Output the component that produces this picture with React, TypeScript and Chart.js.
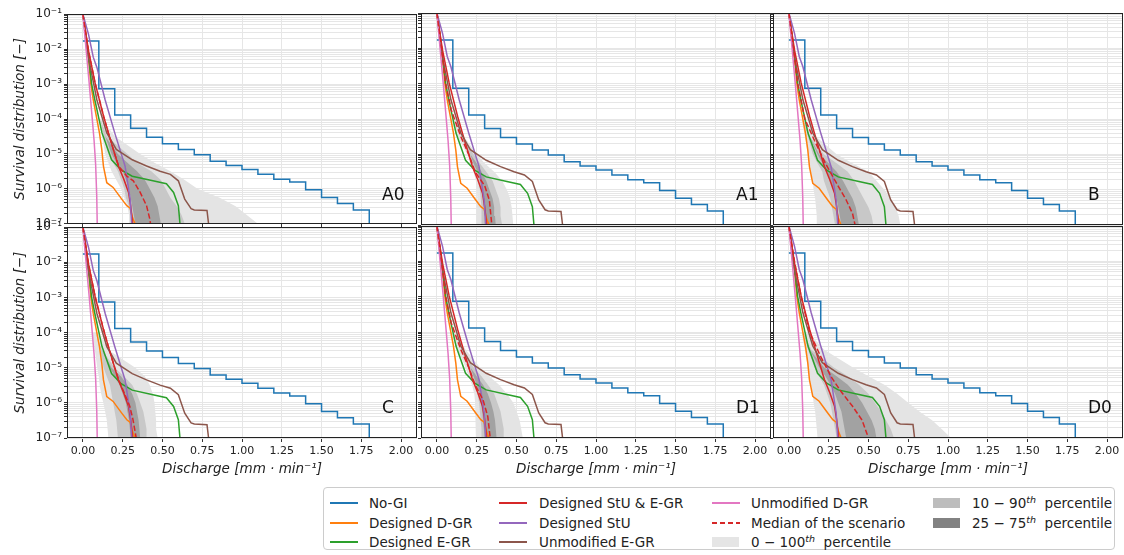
import React, { useEffect, useRef } from 'react';
import { Chart, registerables } from 'chart.js';

Chart.register(...registerables);

const FONT = 'DejaVu Sans';

// ---- colours ----
const C_BLUE = '#1f77b4';
const C_ORANGE = '#ff7f0e';
const C_GREEN = '#2ca02c';
const C_RED = '#d62728';
const C_PURPLE = '#9467bd';
const C_BROWN = '#8c564b';
const C_PINK = '#e377c2';
const C_P100 = '#e4e4e4';
const C_P90 = '#c8c8c8';
const C_P75 = '#a2a2a2';

// ---- axes ----
const X_MIN = -0.1;
const X_MAX = 2.1;
const Y_MIN = 1e-7;
const Y_MAX = 1e-1;
const X_TICKS = [0, 0.25, 0.5, 0.75, 1.0, 1.25, 1.5, 1.75, 2.0];
const Y_EXPONENTS = [-7, -6, -5, -4, -3, -2, -1];

// ---- scenario curves (same in every panel) ----
const NOGI_X = [0, 0.1, 0.2, 0.3, 0.4, 0.5, 0.6, 0.7, 0.8, 0.9, 1.0, 1.1, 1.2, 1.3, 1.4, 1.5, 1.6, 1.7, 1.8];
const NOGI_Y = [1.72e-2, 7.4e-4, 1.3e-4, 5.4e-5, 3.0e-5, 1.96e-5, 1.33e-5, 9.5e-6, 6.2e-6, 4.7e-6, 3.6e-6, 2.6e-6, 1.9e-6, 1.58e-6, 9.4e-7, 5.7e-7, 3.8e-7, 2.5e-7, 5e-8];

const DGR_X = [0, 0.03, 0.05, 0.065, 0.104, 0.119, 0.129, 0.15, 0.19, 0.244, 0.276, 0.297, 0.31, 0.328];
const DGR_Y = [1e-1, 1e-2, 1e-3, 3.5e-4, 4e-5, 1.3e-5, 4.5e-6, 1.5e-6, 1.1e-6, 5.1e-7, 3.3e-7, 2.8e-7, 1.6e-7, 1e-7];

const EGR_X = [0, 0.03, 0.055, 0.075, 0.12, 0.18, 0.24, 0.31, 0.44, 0.525, 0.57, 0.6, 0.61];
const EGR_Y = [1e-1, 1e-2, 1e-3, 3.5e-4, 4e-5, 6.8e-6, 3.5e-6, 2.3e-6, 1.7e-6, 1.4e-6, 7.9e-7, 3.3e-7, 1e-7];

const STU_EGR_X = [0, 0.035, 0.077, 0.13, 0.16, 0.2, 0.223, 0.257, 0.287, 0.3, 0.313];
const STU_EGR_Y = [1e-1, 9e-3, 1.05e-3, 1.2e-4, 4e-5, 1e-5, 4.5e-6, 1.9e-6, 7.9e-7, 3.3e-7, 1e-7];

const STU_X = [0, 0.035, 0.065, 0.088, 0.14, 0.2, 0.265, 0.297, 0.307];
const STU_Y = [1e-1, 2.7e-2, 5.9e-3, 3e-3, 3.5e-4, 4e-5, 4.5e-6, 5.1e-7, 1e-7];

const UEGR_X = [0, 0.025, 0.046, 0.088, 0.15, 0.21, 0.31, 0.4, 0.485, 0.55, 0.6, 0.64, 0.68, 0.7, 0.78, 0.79];
const UEGR_Y = [1e-1, 1e-2, 3.2e-3, 3.5e-4, 4e-5, 1.35e-5, 6.8e-6, 4.5e-6, 3.2e-6, 2.6e-6, 1.7e-6, 5.1e-7, 2.7e-7, 2.5e-7, 2.4e-7, 1e-7];

const UDGR_X = [0, 0.02, 0.04, 0.055, 0.07, 0.08, 0.087, 0.09];
const UDGR_Y = [1e-1, 1e-2, 1e-3, 1.6e-4, 2.5e-5, 5e-6, 6e-7, 1e-7];

// ---- percentile bands: discharge at these survival levels ----
const BAND_Y = [1e-4, 3.2e-5, 1e-5, 5.6e-6, 3.2e-6, 1.8e-6, 1e-6, 5.6e-7, 3.2e-7, 1.8e-7, 1e-7];

const A0_P100_LO = [0.1, 0.12, 0.14, 0.16, 0.18, 0.21, 0.24, 0.26, 0.28, 0.29, 0.29];
const A0_P100_HI = [0.12, 0.2, 0.36, 0.45, 0.55, 0.64, 0.72, 0.86, 0.96, 1.03, 1.1];
const A0_P90_LO = [0.11, 0.13, 0.16, 0.19, 0.22, 0.24, 0.26, 0.27, 0.29, 0.3, 0.3];
const A0_P90_HI = [0.11, 0.15, 0.28, 0.34, 0.43, 0.49, 0.52, 0.55, 0.59, 0.62, 0.64];
const A0_P75_LO = [0.11, 0.14, 0.18, 0.21, 0.25, 0.27, 0.29, 0.3, 0.31, 0.32, 0.33];
const A0_P75_HI = [0.11, 0.14, 0.22, 0.28, 0.34, 0.39, 0.42, 0.45, 0.47, 0.48, 0.49];
const A0_MED_X = [0, 0.035, 0.077, 0.13, 0.16, 0.2, 0.225, 0.276, 0.317, 0.36, 0.4, 0.42, 0.425];
const A0_MED_Y = [1e-1, 9e-3, 1.05e-3, 1.2e-4, 4e-5, 1e-5, 4.5e-6, 2.3e-6, 1.7e-6, 7.9e-7, 3.3e-7, 1.4e-7, 1e-7];

const A1_P100_LO = [0.09, 0.13, 0.19, 0.21, 0.23, 0.245, 0.25, 0.255, 0.25, 0.25, 0.25];
const A1_P100_HI = [0.11, 0.17, 0.25, 0.3, 0.36, 0.41, 0.44, 0.46, 0.47, 0.475, 0.48];
const A1_P90_LO = [0.1, 0.15, 0.2, 0.22, 0.245, 0.26, 0.27, 0.275, 0.28, 0.28, 0.28];
const A1_P90_HI = [0.1, 0.15, 0.23, 0.27, 0.31, 0.35, 0.37, 0.39, 0.4, 0.4, 0.41];
const A1_P75_LO = [0.1, 0.15, 0.21, 0.23, 0.255, 0.27, 0.28, 0.29, 0.295, 0.3, 0.3];
const A1_P75_HI = [0.1, 0.15, 0.21, 0.25, 0.28, 0.31, 0.33, 0.35, 0.36, 0.365, 0.37];
const A1_MED_X = [0, 0.03, 0.055, 0.09, 0.15, 0.2, 0.24, 0.3, 0.33, 0.345];
const A1_MED_Y = [1e-1, 1e-2, 1e-3, 1.8e-4, 3.2e-5, 1e-5, 3.2e-6, 1.3e-6, 5e-7, 1e-7];

const B_P100_LO = [0.08, 0.1, 0.12, 0.13, 0.14, 0.15, 0.155, 0.165, 0.17, 0.175, 0.175];
const B_P100_HI = [0.1, 0.17, 0.3, 0.4, 0.5, 0.55, 0.6, 0.64, 0.67, 0.69, 0.7];
const B_P90_LO = [0.09, 0.12, 0.15, 0.18, 0.21, 0.22, 0.24, 0.26, 0.27, 0.28, 0.29];
const B_P90_HI = [0.09, 0.13, 0.22, 0.3, 0.37, 0.41, 0.44, 0.47, 0.5, 0.52, 0.53];
const B_P75_LO = [0.09, 0.13, 0.18, 0.21, 0.24, 0.26, 0.28, 0.3, 0.31, 0.32, 0.33];
const B_P75_HI = [0.09, 0.13, 0.19, 0.25, 0.3, 0.34, 0.37, 0.4, 0.42, 0.43, 0.44];
const B_MED_X = [0, 0.03, 0.055, 0.1, 0.16, 0.23, 0.3, 0.36, 0.4, 0.416];
const B_MED_Y = [1e-1, 1e-2, 1e-3, 1e-4, 2.5e-5, 5.5e-6, 1.5e-6, 5.1e-7, 2.1e-7, 1e-7];

const C_P100_LO = [0.06, 0.075, 0.09, 0.1, 0.105, 0.115, 0.128, 0.14, 0.15, 0.155, 0.16];
const C_P100_HI = [0.1, 0.16, 0.33, 0.39, 0.42, 0.44, 0.45, 0.455, 0.46, 0.46, 0.47];
const C_P90_LO = [0.08, 0.11, 0.13, 0.15, 0.17, 0.18, 0.19, 0.2, 0.21, 0.215, 0.22];
const C_P90_HI = [0.08, 0.12, 0.2, 0.26, 0.31, 0.34, 0.36, 0.38, 0.39, 0.4, 0.4];
const C_P75_LO = [0.08, 0.12, 0.17, 0.2, 0.23, 0.25, 0.27, 0.28, 0.29, 0.295, 0.3];
const C_P75_HI = [0.08, 0.12, 0.18, 0.24, 0.28, 0.31, 0.33, 0.34, 0.35, 0.355, 0.36];
const C_MED_X = [0, 0.035, 0.077, 0.13, 0.16, 0.2, 0.225, 0.26, 0.295, 0.315, 0.335];
const C_MED_Y = [1e-1, 9e-3, 1.05e-3, 1.2e-4, 4e-5, 1e-5, 4.5e-6, 1.9e-6, 7.9e-7, 3.3e-7, 1e-7];

const D1_P100_LO = [0.09, 0.13, 0.18, 0.2, 0.22, 0.235, 0.24, 0.245, 0.245, 0.245, 0.245];
const D1_P100_HI = [0.11, 0.18, 0.27, 0.33, 0.39, 0.44, 0.48, 0.5, 0.52, 0.53, 0.54];
const D1_P90_LO = [0.1, 0.15, 0.2, 0.22, 0.24, 0.255, 0.265, 0.27, 0.275, 0.28, 0.28];
const D1_P90_HI = [0.1, 0.15, 0.23, 0.28, 0.32, 0.36, 0.38, 0.4, 0.41, 0.42, 0.42];
const D1_P75_LO = [0.1, 0.15, 0.21, 0.23, 0.25, 0.265, 0.275, 0.285, 0.29, 0.295, 0.3];
const D1_P75_HI = [0.1, 0.15, 0.21, 0.25, 0.29, 0.32, 0.34, 0.355, 0.365, 0.37, 0.375];
const D1_MED_X = [0, 0.03, 0.055, 0.09, 0.15, 0.2, 0.24, 0.29, 0.32, 0.335];
const D1_MED_Y = [1e-1, 1e-2, 1e-3, 1.8e-4, 3.2e-5, 1e-5, 3.2e-6, 1.2e-6, 4e-7, 1e-7];

const D0_P100_LO = [0.08, 0.1, 0.12, 0.13, 0.14, 0.15, 0.155, 0.165, 0.17, 0.175, 0.18];
const D0_P100_HI = [0.12, 0.22, 0.4, 0.5, 0.6, 0.68, 0.75, 0.82, 0.9, 0.96, 1.02];
const D0_P90_LO = [0.09, 0.12, 0.16, 0.19, 0.22, 0.24, 0.26, 0.27, 0.28, 0.29, 0.3];
const D0_P90_HI = [0.09, 0.14, 0.28, 0.37, 0.44, 0.5, 0.54, 0.58, 0.61, 0.64, 0.66];
const D0_P75_LO = [0.09, 0.13, 0.19, 0.23, 0.26, 0.29, 0.31, 0.33, 0.34, 0.35, 0.36];
const D0_P75_HI = [0.09, 0.13, 0.22, 0.3, 0.37, 0.42, 0.46, 0.49, 0.52, 0.54, 0.55];
const D0_MED_X = [0, 0.035, 0.077, 0.13, 0.2, 0.27, 0.33, 0.4, 0.46, 0.5];
const D0_MED_Y = [1e-1, 1e-2, 1e-3, 1e-4, 2e-5, 5e-6, 2e-6, 7.9e-7, 3.2e-7, 1e-7];

type PanelDef = {
  name: string;
  col: number;
  row: number;
  bands: number[][];
  medX: number[];
  medY: number[];
};

const PANELS: PanelDef[] = [
  { name: 'A0', col: 0, row: 0, bands: [A0_P75_LO, A0_P75_HI, A0_P90_LO, A0_P90_HI, A0_P100_LO, A0_P100_HI], medX: A0_MED_X, medY: A0_MED_Y },
  { name: 'A1', col: 1, row: 0, bands: [A1_P75_LO, A1_P75_HI, A1_P90_LO, A1_P90_HI, A1_P100_LO, A1_P100_HI], medX: A1_MED_X, medY: A1_MED_Y },
  { name: 'B', col: 2, row: 0, bands: [B_P75_LO, B_P75_HI, B_P90_LO, B_P90_HI, B_P100_LO, B_P100_HI], medX: B_MED_X, medY: B_MED_Y },
  { name: 'C', col: 0, row: 1, bands: [C_P75_LO, C_P75_HI, C_P90_LO, C_P90_HI, C_P100_LO, C_P100_HI], medX: C_MED_X, medY: C_MED_Y },
  { name: 'D1', col: 1, row: 1, bands: [D1_P75_LO, D1_P75_HI, D1_P90_LO, D1_P90_HI, D1_P100_LO, D1_P100_HI], medX: D1_MED_X, medY: D1_MED_Y },
  { name: 'D0', col: 2, row: 1, bands: [D0_P75_LO, D0_P75_HI, D0_P90_LO, D0_P90_HI, D0_P100_LO, D0_P100_HI], medX: D0_MED_X, medY: D0_MED_Y },
];

// ---- layout (pixels) ----
const COL_LEFT = [67, 421, 773];
const ROW_TOP = [13, 226];
const PW = 350;
const PH = 212;

const SUP: Record<string, string> = { '-': '⁻', '0': '⁰', '1': '¹', '2': '²', '3': '³', '4': '⁴', '5': '⁵', '6': '⁶', '7': '⁷', '8': '⁸', '9': '⁹' };
const supLabel = (e: number) => '10' + String(e).split('').map((c) => SUP[c]).join('');

const Y_TICKS: number[] = [];
Y_EXPONENTS.forEach((e, i) => {
  if (i === Y_EXPONENTS.length - 1) {
    Y_TICKS.push(Math.pow(10, e));
  } else {
    for (let m = 1; m < 10; m++) Y_TICKS.push(m * Math.pow(10, e));
  }
});
const isDecade = (v: number) => Math.abs(Math.log10(v) - Math.round(Math.log10(v))) < 1e-6;

const pts = (xs: number[], ys: number[]) => xs.map((x, i) => ({ x, y: ys[i] }));

const framePlugin = {
  id: 'frame',
  afterDraw(chart: any) {
    const { ctx, chartArea } = chart;
    const l = Math.round(chartArea.left) + 0.5;
    const t = Math.round(chartArea.top) + 0.5;
    const r = Math.round(chartArea.right) - 0.5;
    const b = Math.round(chartArea.bottom) - 0.5;
    ctx.save();
    ctx.strokeStyle = '#222';
    ctx.lineWidth = 1;
    ctx.strokeRect(l, t, r - l, b - t);
    ctx.restore();
  },
};

function lineDs(label: string, xs: number[], ys: number[], color: string, extra: any = {}) {
  return {
    label,
    data: pts(xs, ys),
    borderColor: color,
    backgroundColor: color,
    borderWidth: 1.5,
    pointRadius: 0,
    fill: false,
    tension: 0,
    ...extra,
  };
}

function bandDs(lo: number[], hi: number[], color: string) {
  return [
    { label: 'lo', data: pts(lo, BAND_Y), borderColor: 'rgba(0,0,0,0)', backgroundColor: color, borderWidth: 0, pointRadius: 0, fill: '+1', tension: 0 },
    { label: 'hi', data: pts(hi, BAND_Y), borderColor: 'rgba(0,0,0,0)', backgroundColor: color, borderWidth: 0, pointRadius: 0, fill: false, tension: 0 },
  ];
}

function Panel({ p }: { p: PanelDef }) {
  const ref = useRef<HTMLCanvasElement>(null);
  const padL = p.col === 0 ? 67 : 8;
  const padT = 8;
  const padR = 3;
  const padB = p.row === 1 ? 44 : 8;
  const cw = padL + PW + padR;
  const ch = padT + PH + padB;
  const left = COL_LEFT[p.col] - padL;
  const top = ROW_TOP[p.row] - padT;

  useEffect(() => {
    if (!ref.current) return;
    const tickFont = { family: FONT, size: 11 };
    const yTickFont = { family: FONT, size: 12 };
    const titleFont = { family: FONT, size: 13.5, style: 'italic' as const };
    const datasets: any[] = [
      lineDs('Median of the scenario', p.medX, p.medY, C_RED, { borderDash: [5.5, 2.4] }),
      lineDs('Unmodified D-GR', UDGR_X, UDGR_Y, C_PINK),
      lineDs('Unmodified E-GR', UEGR_X, UEGR_Y, C_BROWN),
      lineDs('Designed StU', STU_X, STU_Y, C_PURPLE),
      lineDs('Designed StU & E-GR', STU_EGR_X, STU_EGR_Y, C_RED),
      lineDs('Designed E-GR', EGR_X, EGR_Y, C_GREEN),
      lineDs('Designed D-GR', DGR_X, DGR_Y, C_ORANGE),
      lineDs('No-GI', NOGI_X, NOGI_Y, C_BLUE, { stepped: true }),
      ...bandDs(p.bands[0], p.bands[1], C_P75),
      ...bandDs(p.bands[2], p.bands[3], C_P90),
      ...bandDs(p.bands[4], p.bands[5], C_P100),
    ];
    const chart = new Chart(ref.current, {
      type: 'line',
      data: { datasets },
      plugins: [framePlugin],
      options: {
        animation: false,
        responsive: false,
        devicePixelRatio: 1,
        indexAxis: 'y',
        layout: { padding: { top: padT, right: padR, left: 0, bottom: 0 } },
        plugins: { legend: { display: false }, tooltip: { enabled: false } },
        scales: {
          x: {
            type: 'linear',
            position: 'bottom',
            min: X_MIN,
            max: X_MAX,
            afterBuildTicks: (s: any) => {
              s.ticks = X_TICKS.map((v) => ({ value: v }));
            },
            afterFit: (s: any) => {
              s.height = padB;
            },
            grid: { color: '#e6e6e6', lineWidth: 1, tickColor: '#333', tickLength: 4, drawTicks: true },
            border: { display: false },
            ticks: {
              display: p.row === 1,
              autoSkip: false,
              maxRotation: 0,
              padding: 3,
              color: '#222',
              font: tickFont,
              callback: (v: any) => Number(v).toFixed(2),
            },
            title: {
              display: p.row === 1,
              text: 'Discharge [mm · min⁻¹]',
              color: '#222',
              font: titleFont,
              padding: { top: 0, bottom: 4 },
            },
          },
          y: {
            type: 'logarithmic',
            position: 'left',
            min: Y_MIN,
            max: Y_MAX,
            afterBuildTicks: (s: any) => {
              s.ticks = Y_TICKS.map((v) => ({ value: v }));
            },
            afterFit: (s: any) => {
              s.width = padL;
            },
            grid: { color: '#e6e6e6', lineWidth: 1, tickColor: '#333', tickLength: 3, drawTicks: true },
            border: { display: false },
            ticks: {
              display: p.col === 0,
              autoSkip: false,
              padding: 2,
              color: '#222',
              font: yTickFont,
              callback: (v: any) => (isDecade(Number(v)) ? supLabel(Math.round(Math.log10(Number(v)))) : ''),
            },
            title: {
              display: p.col === 0,
              text: 'Survival distribution [−]',
              color: '#222',
              font: titleFont,
              padding: { top: 12, bottom: 0 },
            },
          },
        },
      } as any,
    });
    return () => chart.destroy();
  }, []);

  return (
    <canvas
      ref={ref}
      width={cw}
      height={ch}
      style={{ position: 'absolute', left, top, width: cw, height: ch }}
    />
  );
}

// ---- legend ----
type LegendItem = { label: string; kind: 'line' | 'dash' | 'patch'; color: string; col: number; row: number; sup?: [string, string] };
const LEGEND_ITEMS: LegendItem[] = [
  { label: 'No-GI', kind: 'line', color: C_BLUE, col: 0, row: 0 },
  { label: 'Designed D-GR', kind: 'line', color: C_ORANGE, col: 0, row: 1 },
  { label: 'Designed E-GR', kind: 'line', color: C_GREEN, col: 0, row: 2 },
  { label: 'Designed StU & E-GR', kind: 'line', color: C_RED, col: 1, row: 0 },
  { label: 'Designed StU', kind: 'line', color: C_PURPLE, col: 1, row: 1 },
  { label: 'Unmodified E-GR', kind: 'line', color: C_BROWN, col: 1, row: 2 },
  { label: 'Unmodified D-GR', kind: 'line', color: C_PINK, col: 2, row: 0 },
  { label: 'Median of the scenario', kind: 'dash', color: C_RED, col: 2, row: 1 },
  { label: '', kind: 'patch', color: '#e5e5e5', col: 2, row: 2, sup: ['0 − 100', 'percentile'] },
  { label: '', kind: 'patch', color: '#bdbdbd', col: 3, row: 0, sup: ['10 − 90', 'percentile'] },
  { label: '', kind: 'patch', color: '#828282', col: 3, row: 1, sup: ['25 − 75', 'percentile'] },
];
const LEG_HANDLE_X = [330, 499, 712, 933];
const LEG_TEXT_X = [369, 539, 751, 972];
const LEG_ROW_Y = [503, 523, 542];

function Legend() {
  return (
    <>
      <div
        style={{
          position: 'absolute',
          left: 323,
          top: 487,
          width: 792,
          height: 63,
          border: '1px solid #cccccc',
          borderRadius: 4,
          background: 'rgba(255,255,255,0.8)',
          boxSizing: 'border-box',
        }}
      />
      {LEGEND_ITEMS.map((it, i) => {
        const hx = LEG_HANDLE_X[it.col];
        const cy = LEG_ROW_Y[it.row];
        let handle;
        if (it.kind === 'line') {
          handle = <div style={{ position: 'absolute', left: hx, top: cy - 0.75, width: 28, height: 1.5, background: it.color }} />;
        } else if (it.kind === 'dash') {
          handle = (
            <div
              style={{
                position: 'absolute',
                left: hx,
                top: cy - 0.75,
                width: 28,
                height: 1.5,
                background: `repeating-linear-gradient(90deg, ${it.color} 0px, ${it.color} 5.5px, transparent 5.5px, transparent 8px)`,
              }}
            />
          );
        } else {
          handle = <div style={{ position: 'absolute', left: hx, top: cy - 5, width: 27, height: 10, background: it.color }} />;
        }
        return (
          <React.Fragment key={i}>
            {handle}
            <div
              style={{
                position: 'absolute',
                left: LEG_TEXT_X[it.col],
                top: cy - 8,
                height: 16,
                lineHeight: '16px',
                fontFamily: FONT,
                fontSize: 13.5,
                color: '#222',
                whiteSpace: 'pre',
              }}
            >
              {it.sup ? (
                <>
                  {it.sup[0]}
                  <sup style={{ fontSize: 9.5, fontStyle: 'italic', lineHeight: 0 }}>th</sup>
                  {'  ' + it.sup[1]}
                </>
              ) : (
                it.label
              )}
            </div>
          </React.Fragment>
        );
      })}
    </>
  );
}

export default function App() {
  return (
    <div style={{ position: 'absolute', left: 0, top: 0, width: 1124, height: 555, background: '#fff', overflow: 'hidden' }}>
      {PANELS.map((p) => (
        <Panel key={p.name} p={p} />
      ))}
      {PANELS.map((p) => (
        <div
          key={'lbl' + p.name}
          style={{
            position: 'absolute',
            left: COL_LEFT[p.col] + 315,
            top: ROW_TOP[p.row] + 173,
            fontFamily: FONT,
            fontSize: 17,
            lineHeight: '17px',
            color: '#111',
          }}
        >
          {p.name}
        </div>
      ))}
      <Legend />
    </div>
  );
}
